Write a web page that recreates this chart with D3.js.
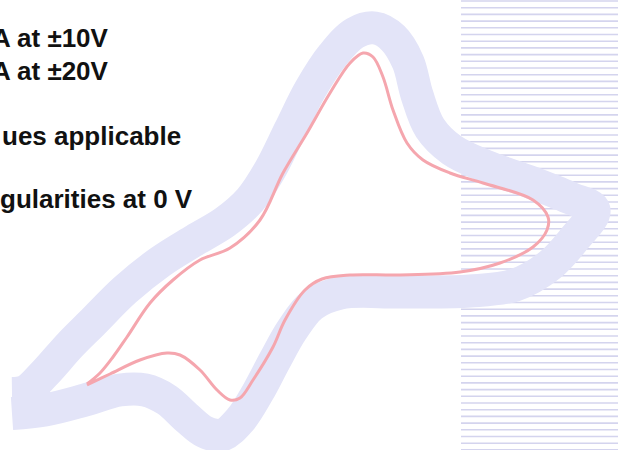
<!DOCTYPE html>
<html><head><meta charset="utf-8">
<script src="https://cdn.jsdelivr.net/npm/d3@7/dist/d3.min.js"></script>
<style>html,body{margin:0;padding:0;background:#fff;overflow:hidden}</style>
</head><body>
<script>
// Measured voltammogram (pink trace): potential (V) and current (µA)
const potential = [-22.3,-21.0,-19.7,-18.3,-16.0,-13.7,-11.0,-8.0,-5.0,-2.7,-0.3,2.0,4.0,5.3,6.3,7.3,8.3,9.7,11.3,14.0,17.3,22.3,23.8,23.7,22.3,19.0,15.0,9.0,4.0,1.2,-0.5,-2.5,-3.7,-5.7,-7.0,-8.0,-9.3,-11.0,-13.0,-14.3,-17.0,-20.0,-22.3];
const current   = [-13.4,-12.3,-10.7,-8.7,-5.3,-3.0,-1.0,0.2,3.0,7.7,11.7,15.7,18.7,19.7,19.3,17.3,14.0,10.7,9.0,7.7,6.7,5.0,3.3,2.0,0.3,-1.3,-2.2,-2.5,-2.5,-2.9,-4.0,-7.0,-9.7,-13.0,-14.8,-15.0,-14.0,-12.0,-10.5,-10.3,-11.0,-12.4,-13.5];
// Tolerance envelope (lavender band) centre line
const bandPotential = [-29.8,-28.4,-26.5,-24.0,-21.8,-18.5,-15.0,-11.5,-8.5,-6.0,-4.0,-2.0,0.0,2.3,4.5,6.5,8.3,9.8,10.7,12.0,14.2,17.5,22.0,26.0,28.4,26.5,24.0,20.5,16.0,9.0,3.0,0.2,-1.8,-3.5,-5.2,-7.0,-8.8,-10.5,-12.3,-14.3,-16.5,-19.0,-22.5,-26.5,-29.8];
const bandCurrent   = [-14.35,-14.1,-12.3,-9.5,-7.3,-4.0,-1.2,1.0,2.8,5.0,8.0,12.0,16.0,19.5,21.7,22.2,21.2,18.8,15.5,12.2,10.0,8.4,6.8,5.2,4.0,1.2,-1.5,-3.5,-4.1,-4.2,-4.3,-5.5,-8.0,-11.0,-14.2,-17.0,-18.5,-18.2,-16.8,-15.0,-14.0,-14.0,-15.0,-16.0,-16.35];
const notes = [
  {text:"A at \u00b110V", line:0},
  {text:"A at \u00b120V", line:1},
  {text:"ues applicable", line:2},
  {text:"gularities at 0 V", line:3}
];

const W = 618, H = 450;
const svg = d3.select("body").append("svg").attr("width", W).attr("height", H);

const x = d3.scaleLinear().domain([-31, 30.8]).range([0, 618]);
const y = d3.scaleLinear().domain([-20, 25]).range([450, 0]);

// striped panel on the right
const stripeY = d3.range(1, H, 6.7);
svg.append("g").selectAll("line").data(stripeY).join("line")
  .attr("x1", 461).attr("x2", W).attr("y1", d => d).attr("y2", d => d)
  .attr("stroke", "#d4d4ee").attr("stroke-width", 1.6);

const line = d3.line().curve(d3.curveCatmullRom.alpha(0.5));

svg.append("path")
  .attr("d", line(bandPotential.map((v, i) => [x(v), y(bandCurrent[i])])))
  .attr("fill", "none").attr("stroke", "#e3e4f8").attr("stroke-width", 33)
  .attr("stroke-linejoin", "round").attr("stroke-linecap", "butt");

svg.append("path")
  .attr("d", line(potential.map((v, i) => [x(v), y(current[i])])))
  .attr("fill", "none").attr("stroke", "#f5a6ae").attr("stroke-width", 3)
  .attr("stroke-linejoin", "round");

const baselines = [47, 80, 145, 208];
const xs = [-8, -8, 2, 0];
svg.append("g").selectAll("text").data(notes).join("text")
  .attr("x", d => xs[d.line]).attr("y", d => baselines[d.line])
  .attr("font-family", "Liberation Sans, Arial, sans-serif")
  .attr("font-weight", "bold").attr("font-size", 26).attr("fill", "#111")
  .text(d => d.text);
</script>
</body></html>
